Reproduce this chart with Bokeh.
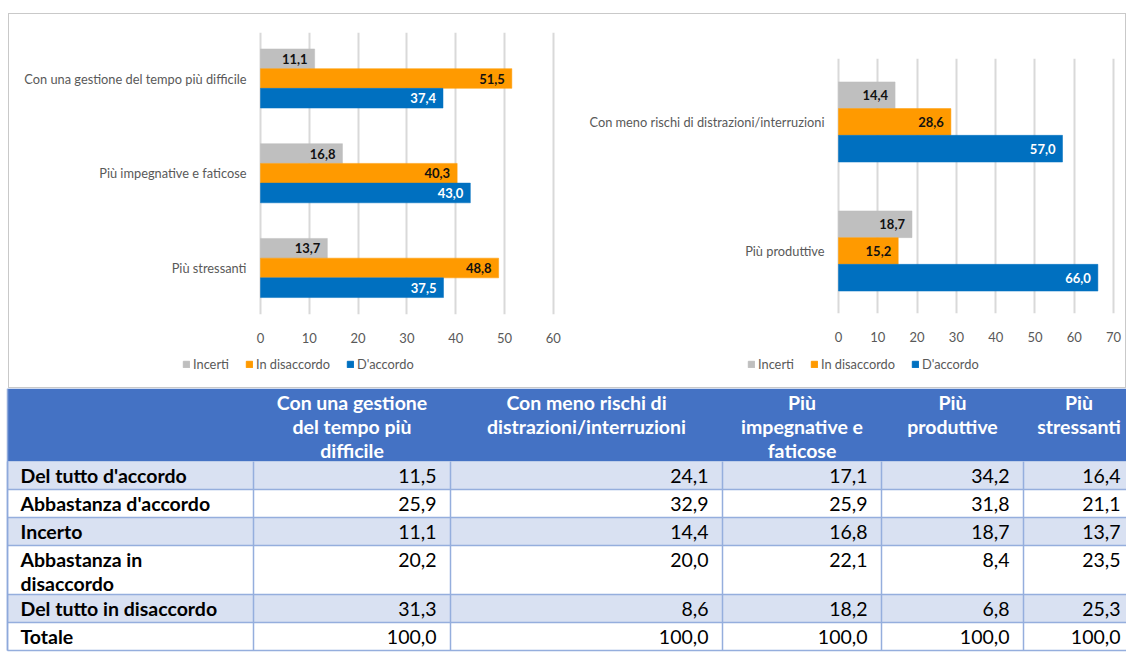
from bokeh.plotting import figure
from bokeh.models import Range1d, FixedTicker, Legend, LegendItem, ColumnDataSource
from bokeh.transform import dodge
from bokeh.layouts import column, row
from bokeh.embed import file_html
from bokeh.resources import INLINE
from bokeh.core.properties import value

# ---------------- data ----------------
series_names = ["Incerti", "In disaccordo", "D'accordo"]

left_categories = ["Con una gestione del tempo più difficile",
                   "Più impegnative e faticose",
                   "Più stressanti"]
left_incerti = [11.1, 16.8, 13.7]
left_disaccordo = [51.5, 40.3, 48.8]
left_accordo = [37.4, 43.0, 37.5]
left_ticks = [0, 10, 20, 30, 40, 50, 60]

right_categories = ["Con meno rischi di distrazioni/interruzioni",
                    "Più produttive"]
right_incerti = [14.4, 18.7]
right_disaccordo = [28.6, 15.2]
right_accordo = [57.0, 66.0]
right_ticks = [0, 10, 20, 30, 40, 50, 60, 70]

table_headers = ["Con una gestione\ndel tempo più\ndifficile",
                 "Con meno rischi di\ndistrazioni/interruzioni",
                 "Più\nimpegnative e\nfaticose",
                 "Più\nproduttive",
                 "Più\nstressanti"]
table_row_labels = ["Del tutto d'accordo",
                    "Abbastanza d'accordo",
                    "Incerto",
                    "Abbastanza in\ndisaccordo",
                    "Del tutto in disaccordo",
                    "Totale"]
tbl_tutto_accordo = [11.5, 24.1, 17.1, 34.2, 16.4]
tbl_abb_accordo = [25.9, 32.9, 25.9, 31.8, 21.1]
tbl_incerto = [11.1, 14.4, 16.8, 18.7, 13.7]
tbl_abb_disaccordo = [20.2, 20.0, 22.1, 8.4, 23.5]
tbl_tutto_disaccordo = [31.3, 8.6, 18.2, 6.8, 25.3]
tbl_totale = [100.0, 100.0, 100.0, 100.0, 100.0]
table_values = [tbl_tutto_accordo, tbl_abb_accordo, tbl_incerto,
                tbl_abb_disaccordo, tbl_tutto_disaccordo, tbl_totale]

# ---------------- styles ----------------
COLORS = ["#BFBFBF", "#FF9A00", "#0070C0"]
LABEL_COLORS = ["#111111", "#111111", "#FFFFFF"]
FONT = "Lato"
TXT_GREY = "#595959"


def fmt(v):
    return f"{v:.1f}".replace(".", ",")


def make_chart(categories, series, ticks, width, height, xr, yr,
               border_tb, bar_h):
    n = len(categories)
    pos = [n - 1 - i for i in range(n)]
    p = figure(width=width, height=height,
               x_range=Range1d(*xr), y_range=Range1d(*yr),
               output_backend="svg", toolbar_location=None,
               y_axis_location=None,
               min_border_left=0, min_border_right=0,
               min_border_top=border_tb[0], min_border_bottom=border_tb[1])
    p.outline_line_color = None
    p.background_fill_color = "white"
    p.border_fill_color = "white"

    offsets = [bar_h, 0.0, -bar_h]
    for k, vals in enumerate(series):
        src = ColumnDataSource(dict(pos=pos, v=vals,
                                    lab=[fmt(x) for x in vals]))
        p.hbar(y=dodge("pos", offsets[k]), right="v", left=0,
               height=bar_h, source=src, fill_color=COLORS[k],
               line_color=COLORS[k], line_width=0.5)
        p.text(x="v", y=dodge("pos", offsets[k]), text="lab", source=src,
               x_offset=-7, text_align="right", text_baseline="middle",
               text_font=value(FONT), text_font_style="bold",
               text_font_size="13px", text_color=LABEL_COLORS[k])

    # category labels, placed left of the zero line
    csrc = ColumnDataSource(dict(pos=pos, cat=categories, zero=[0] * n))
    p.text(x="zero", y="pos", text="cat", source=csrc, x_offset=-14,
           text_align="right", text_baseline="middle",
           text_font=value(FONT), text_font_size="12.8px",
           text_color=TXT_GREY)

    p.xaxis.ticker = FixedTicker(ticks=ticks)
    p.xaxis.axis_line_color = None
    p.xaxis.major_tick_line_color = None
    p.xaxis.minor_tick_line_color = None
    p.xaxis.major_label_standoff = 12
    p.xaxis.major_label_text_font = FONT
    p.xaxis.major_label_text_font_size = "13px"
    p.xaxis.major_label_text_color = TXT_GREY

    p.ygrid.grid_line_color = None
    p.xgrid.ticker = FixedTicker(ticks=ticks)
    p.xgrid.grid_line_color = "#D9D9D9"
    p.xgrid.grid_line_width = 2
    return p


def make_legend(width, height, loc):
    lg = figure(width=width, height=height, x_range=Range1d(0, 1),
                y_range=Range1d(0, 1), output_backend="svg",
                toolbar_location=None, x_axis_location=None,
                y_axis_location=None, min_border=0)
    lg.grid.visible = False
    lg.outline_line_color = None
    items = []
    for k in range(3):
        # a swatch-only renderer, kept outside the visible range
        r = lg.quad(left=[-6], right=[-5], bottom=[-6], top=[-5],
                    fill_color=COLORS[k], line_color=COLORS[k])
        items.append(LegendItem(label=series_names[k], renderers=[r]))
    legend = Legend(items=items, orientation="horizontal", location=loc,
                    padding=0, margin=0, spacing=16,
                    glyph_width=8, glyph_height=8, label_standoff=3,
                    label_height=12, label_text_font=FONT,
                    label_text_font_size="12.8px",
                    label_text_color=TXT_GREY,
                    border_line_color=None, background_fill_alpha=0)
    lg.add_layout(legend)
    return lg


CHART_H = 336
LEG_H = 37
LEFT_W = 566
RIGHT_W = 550

# left: frame spans x 9..575 ; zero at 260, 4.88 px / unit
left = make_chart(left_categories,
                  [left_incerti, left_disaccordo, left_accordo],
                  left_ticks, LEFT_W, CHART_H,
                  (-51.43, 64.55), (-0.4908, 2.4855), (18, 36), 0.208)
# right: frame spans x 575..1125 ; zero at 838, 3.93 px / unit
right = make_chart(right_categories,
                   [right_incerti, right_disaccordo, right_accordo],
                   right_ticks, RIGHT_W, CHART_H,
                   (-66.92, 73.03), (-0.4845, 1.492), (44, 37), 0.207)

left_leg = make_legend(LEFT_W, LEG_H, (173, 15))
right_leg = make_legend(RIGHT_W, LEG_H, (172, 15))

charts = row(column(left, left_leg), column(right, right_leg),
             margin=(13, 0, 0, 8),
             styles={"border": "1px solid #C9C9C9"})

# ---------------- table ----------------
T_TOP, T_H = 389, 265
col_edges = [7, 253, 450, 722, 881, 1023, 1134]
header_h = 73
single_h = 28
extra_line_h = 21
text_pad = 14
line_step = 24

t = figure(width=1126, height=T_H,
           x_range=Range1d(0, 1126), y_range=Range1d(T_TOP + T_H, T_TOP),
           output_backend="svg", toolbar_location=None,
           x_axis_location=None, y_axis_location=None, min_border=0)
t.grid.visible = False
t.outline_line_color = None
t.background_fill_color = "white"
t.border_fill_color = "white"

row_tops = []
y = T_TOP + header_h
for lab in table_row_labels:
    nlines = lab.count("\n") + 1
    h = single_h + (nlines - 1) * extra_line_h
    row_tops.append((y, y + h))
    y += h

qL, qR, qT, qB, qC = [], [], [], [], []
qL.append(col_edges[0]); qR.append(col_edges[-1] + 20); qT.append(T_TOP)
qB.append(T_TOP + header_h); qC.append("#4472C4")
for i, (a, b) in enumerate(row_tops):
    qL.append(col_edges[0]); qR.append(col_edges[-1] + 20); qT.append(a)
    qB.append(b); qC.append("#D9E1F2" if i % 2 == 0 else "#FFFFFF")
t.quad(left=qL, right=qR, top=qT, bottom=qB, fill_color=qC, line_color=None)

body_top = T_TOP + header_h
body_bot = row_tops[-1][1]
sx0, sy0, sx1, sy1 = [], [], [], []
for xe in col_edges[:-1]:
    sx0.append(xe); sx1.append(xe); sy0.append(body_top); sy1.append(body_bot)
for a, b in row_tops:
    sx0.append(col_edges[0]); sx1.append(col_edges[-1] + 20); sy0.append(b); sy1.append(b)
t.segment(x0=sx0, y0=sy0, x1=sx1, y1=sy1, line_color="#95AEDD", line_width=1.5)
t.segment(x0=[col_edges[0]], y0=[T_TOP], x1=[col_edges[0]], y1=[body_bot],
          line_color="#8EA9DB", line_width=1.5)

hx, hy, ht = [], [], []
for j, h in enumerate(table_headers):
    cx = (col_edges[j + 1] + col_edges[j + 2]) / 2
    for k, line in enumerate(h.split("\n")):
        hx.append(cx); hy.append(T_TOP + text_pad + line_step * k); ht.append(line)
t.text(x=hx, y=hy, text=ht, text_align="center", text_baseline="middle",
       text_font=value(FONT), text_font_style="bold", text_font_size="19.5px",
       text_color="white")

rx, ry, rt = [], [], []
for (a, b), lab in zip(row_tops, table_row_labels):
    for k, line in enumerate(lab.split("\n")):
        rx.append(20); ry.append(a + text_pad + line_step * k); rt.append(line)
t.text(x=rx, y=ry, text=rt, text_align="left", text_baseline="middle",
       text_font=value(FONT), text_font_style="bold", text_font_size="19.5px",
       text_color="black")

vx, vy, vt = [], [], []
for (a, b), vals in zip(row_tops, table_values):
    for j, v in enumerate(vals):
        vx.append(col_edges[j + 2] - 14); vy.append(a + text_pad); vt.append(fmt(v))
t.text(x=vx, y=vy, text=vt, text_align="right", text_baseline="middle",
       text_font=value(FONT), text_font_size="19.5px", text_color="black")

layout = column(charts, t)
open("out.html", "w").write(file_html(layout, INLINE))
